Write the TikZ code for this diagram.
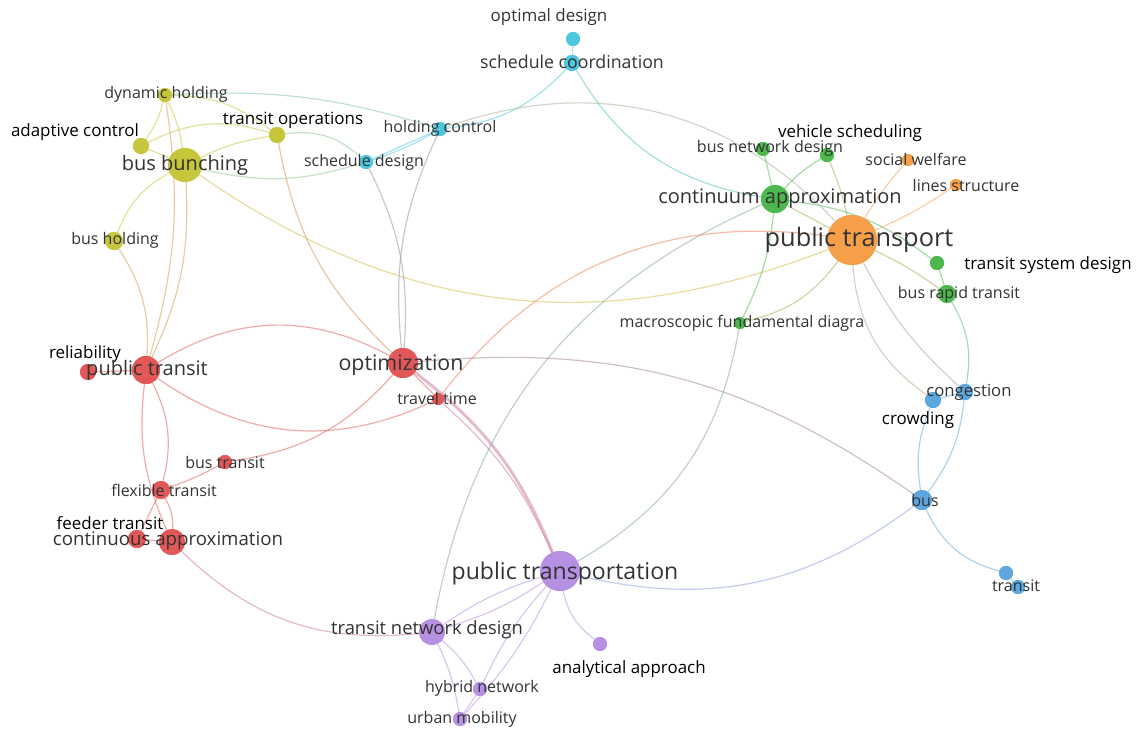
\documentclass[tikz,border=0pt]{standalone}
\usepackage{fontspec}
\setmainfont{Open Sans}
\definecolor{cy}{HTML}{C6C63C}
\definecolor{cc}{HTML}{4EC6DE}
\definecolor{cg}{HTML}{4DB84E}
\definecolor{co}{HTML}{F5A048}
\definecolor{cr}{HTML}{E25858}
\definecolor{cb}{HTML}{5EA6DE}
\definecolor{cp}{HTML}{B690E2}
\definecolor{lblgray}{HTML}{333333}
\begin{document}
\begin{tikzpicture}[x=0.75pt,y=-0.75pt,
  kw/.style args={#1/#2}{circle,inner sep=0pt,minimum size=#2*1.5pt,fill=#1},
  e/.style={draw=#1,draw opacity=0.5,line width=0.9pt},
  lbl/.style={font=\fontsize{#1pt}{#1pt}\selectfont,text=lblgray,inner sep=0pt},
  dlbl/.style={font=\fontsize{#1pt}{#1pt}\selectfont,text=black,inner sep=0pt},
]
\fill[white] (0,0) rectangle (1139,729);
\useasboundingbox (0,0) rectangle (1139,729);

% ---------- nodes (keywords) ----------
% yellow
\node[kw=cy/17] (bb) at (185,165) {};
\node[kw=cy/7] (dh) at (165,95) {};
\node[kw=cy/8] (ac) at (141,146) {};
\node[kw=cy/8] (to) at (277,135) {};
\node[kw=cy/9] (bh) at (114,241) {};
% cyan
\node[kw=cc/7] (od) at (573,39) {};
\node[kw=cc/8] (sc) at (572,63) {};
\node[kw=cc/7] (hc) at (440,129) {};
\node[kw=cc/7] (sd) at (366,162) {};
% green
\node[kw=cg/14] (ca) at (775,199) {};
\node[kw=cg/7] (bnd) at (763,149) {};
\node[kw=cg/7] (vs) at (827,155) {};
\node[kw=cg/7] (tsd) at (937,263) {};
\node[kw=cg/9] (brt) at (947,294) {};
\node[kw=cg/6] (mfd) at (740,323) {};
% orange
\node[kw=co/25] (ptr) at (852,240) {};
\node[kw=co/6] (sw) at (908,160) {};
\node[kw=co/6] (ls) at (956,185) {};
% red
\node[kw=cr/14] (pt) at (146,370) {};
\node[kw=cr/8] (rel) at (88,372) {};
\node[kw=cr/15] (opt) at (403,363) {};
\node[kw=cr/6] (tt) at (438,399) {};
\node[kw=cr/7] (bt) at (225,462) {};
\node[kw=cr/9] (ft) at (161,490) {};
\node[kw=cr/9] (fd) at (137,539) {};
\node[kw=cr/13] (cont) at (172,542) {};
% blue
\node[kw=cb/8] (cong) at (965,392) {};
\node[kw=cb/8] (crow) at (933,400) {};
\node[kw=cb/10] (bus) at (922,500) {};
\node[kw=cb/7] (tr1) at (1006,573) {};
\node[kw=cb/7] (tr2) at (1018,587) {};
% purple
\node[kw=cp/20] (ptn) at (560,571) {};
\node[kw=cp/13] (tnd) at (432,632) {};
\node[kw=cp/7] (aa) at (600,644) {};
\node[kw=cp/7] (hn) at (480,689) {};
\node[kw=cp/7] (um) at (460,719) {};

% ---------- edges ----------
% yellow
\draw[e=cy] (bb) to[bend right=8] (dh);
\draw[e=cy] (bb) to (ac);
\draw[e=cy] (ac) to[bend right=10] (dh);
\draw[e=cy] (dh) to[bend left=18] (to);
\draw[e=cy] (ac) to[bend left=22] (to);
\draw[e=cy] (bb) to[bend left=8] (to);
\draw[e=cy!50!cc] (to) to[bend left=25] (sd);
\draw[e=cy!50!cc] (bb) to[bend right=15] (sd);
\draw[e=cy!40!cc] (dh) to[bend left=10] (hc);
\draw[e=cy] (bb) to[bend right=20] (bh);
\draw[e=cy!60!cr] (bb) to[bend left=14] (pt);
\draw[e=cy!60!cr] (dh) to[bend left=12] (pt);
\draw[e=cy!60!cr] (bh) to[bend left=18] (pt);
\draw[e=cy!70!co] (bb) to[bend right=28] (ptr);
\draw[e=cy!50!cr] (to) to[bend right=18] (opt);
% cyan
\draw[e=cc] (od) to (sc);
\draw[e=cc] (sc) to[bend left=20] (hc);
\draw[e=cc!70!cg] (sc) to[bend right=25] (ca);
\draw[e=cc] (hc) to (sd);
\draw[e=cc] (hc) to[bend left=6] (sd);
\draw[e=cc!50!cr] (sd) to[bend left=15] (opt);
\draw[e=cc!50!cr] (hc) to[bend right=15] (opt);
\draw[e=cc!50!co] (hc) to[bend left=33] (ptr);
% green
\draw[e=cg] (bnd) to (ca);
\draw[e=cg] (vs) to[bend right=8] (ca);
\draw[e=cg!50!co] (vs) to[bend left=5] (ptr);
\draw[e=cg!50!co] (ca) to (ptr);
\draw[e=cg] (ca) to[bend left=10] (mfd);
\draw[e=cg] (ca) to[bend left=15] (tsd);
\draw[e=cg] (tsd) to (brt);
\draw[e=cg!60!cb] (brt) to[bend left=20] (cong);
\draw[e=cg!50!cp] (ca) to[bend right=28] (tnd);
\draw[e=cg!50!cp] (mfd) to[bend left=25] (ptn);
\draw[e=cg!50!co] (mfd) to[bend right=20] (ptr);
% orange
\draw[e=co] (ptr) to[bend left=5] (sw);
\draw[e=co] (ptr) to[bend right=5] (ls);
\draw[e=co!50!cr] (tt) to[bend left=30] (ptr);
\draw[e=co!60!cb] (ptr) to[bend right=25] (crow);
\draw[e=co!40!cb] (ptr) to[bend right=10] (cong);
\draw[e=co!50!cg] (ptr) to[bend left=5] (brt);
% red
\draw[e=cr] (pt) to (rel);
\draw[e=cr] (pt) to[bend left=30] (opt);
\draw[e=cr] (pt) to[bend right=30] (tt);
\draw[e=cr] (pt) to[bend left=20] (ft);
\draw[e=cr] (pt) to[bend right=15] (cont);
\draw[e=cr] (ft) to[bend right=5] (bt);
\draw[e=cr] (bt) to[bend right=20] (opt);
\draw[e=cr] (ft) to[bend left=15] (cont);
\draw[e=cr] (ft) to (fd);
\draw[e=cr] (cont) to (fd);
\draw[e=cr!50!cp] (cont) to[bend right=25] (tnd);
\draw[e=cr] (opt) to (tt);
\draw[draw=cr!50!cp,draw opacity=0.5,line width=2.2pt] (opt) to[bend left=15] (ptn);
\draw[e=cr!50!cp] (tt) to[bend left=12] (ptn);
\draw[e=cr!50!cb] (opt) to[bend left=20] (bus);
% blue
\draw[e=cb] (cong) to (crow);
\draw[e=cb] (cong) to[bend left=15] (bus);
\draw[e=cb] (crow) to[bend right=15] (bus);
\draw[e=cb] (bus) to[bend right=25] (tr1);
\draw[e=cb] (tr1) to (tr2);
\draw[e=cb!50!cp] (bus) to[bend left=25] (ptn);
% purple
\draw[e=cp] (ptn) to[bend left=8] (tnd);
\draw[e=cp] (ptn) to[bend right=8] (tnd);
\draw[e=cp] (ptn) to[bend right=20] (aa);
\draw[e=cp] (ptn) to[bend right=8] (hn);
\draw[e=cp] (ptn) to[bend left=8] (um);
\draw[e=cp] (tnd) to[bend left=10] (hn);
\draw[e=cp] (tnd) to[bend left=8] (um);
\draw[e=cp] (hn) to (um);

% redraw node discs on top of edges
\foreach \n/\c/\r in {bb/cy/17, dh/cy/7, ac/cy/8, to/cy/8, bh/cy/9,
  od/cc/7, sc/cc/8, hc/cc/7, sd/cc/7,
  ca/cg/14, bnd/cg/7, vs/cg/7, tsd/cg/7, brt/cg/9, mfd/cg/6,
  ptr/co/25, sw/co/6, ls/co/6,
  pt/cr/14, rel/cr/8, opt/cr/15, tt/cr/6, bt/cr/7, ft/cr/9, fd/cr/9, cont/cr/13,
  cong/cb/8, crow/cb/8, bus/cb/10, tr1/cb/7, tr2/cb/7,
  ptn/cp/20, tnd/cp/13, aa/cp/7, hn/cp/7, um/cp/7}
  {\fill[\c] (\n.center) circle[radius=\r*0.75pt];}

% ---------- labels ----------
\node[lbl=15] (l-bb) at (185,165) {bus bunching};
\node[lbl=12] (l-dh) at (166,94) {dynamic holding};
\node[dlbl=12.7] (l-ac) at (75,132) {adaptive control};
\node[dlbl=12.7] (l-to) at (293,120) {transit operations};
\node[lbl=12] (l-bh) at (115,240) {bus holding};
\node[lbl=12.7] (l-od) at (549,17) {optimal design};
\node[lbl=13.3] (l-sc) at (572,62) {schedule coordination};
\node[lbl=12] (l-hc) at (440,128) {holding control};
\node[lbl=12] (l-sd) at (364,162) {schedule design};
\node[lbl=15] (l-ca) at (780,199) {continuum approximation};
\node[lbl=12] (l-bnd) at (770,148) {bus network design};
\node[dlbl=12.7] (l-vs) at (850,133) {vehicle scheduling};
\node[lbl=12] (l-sw) at (916,159) {social welfare};
\node[lbl=12] (l-ls) at (966,185) {lines structure};
\node[lbl=19] (l-ptr) at (859,240) {public transport};
\node[dlbl=12.7] (l-tsd) at (1048,265) {transit system design};
\node[lbl=12] (l-brt) at (959,294) {bus rapid transit};
\node[lbl=12] (l-mfd) at (742,323) {macroscopic fundamental diagra};
\node[dlbl=12.7] (l-rel) at (85,354) {reliability};
\node[lbl=15] (l-pt) at (147,370) {public transit};
\node[lbl=16] (l-opt) at (401,365) {optimization};
\node[lbl=12] (l-tt) at (437,398) {travel time};
\node[lbl=12] (l-bt) at (225,462) {bus transit};
\node[lbl=12] (l-ft) at (164,490) {flexible transit};
\node[dlbl=12.7] (l-fd) at (110,523) {feeder transit};
\node[lbl=14] (l-cont) at (168,541) {continuous approximation};
\node[lbl=12.5] (l-cong) at (969,392) {congestion};
\node[dlbl=12.7] (l-crow) at (918,420) {crowding};
\node[lbl=12] (l-bus) at (925,500) {bus};
\node[lbl=12] (l-tr) at (1016,586) {transit};
\node[lbl=17.3] (l-ptn) at (565,573) {public transportation};
\node[lbl=13.8] (l-tnd) at (427,630) {transit network design};
\node[dlbl=12.7] (l-aa) at (629,669) {analytical approach};
\node[lbl=12] (l-hn) at (482,688) {hybrid network};
\node[lbl=12] (l-um) at (462,719) {urban mobility};
\end{tikzpicture}
\end{document}
